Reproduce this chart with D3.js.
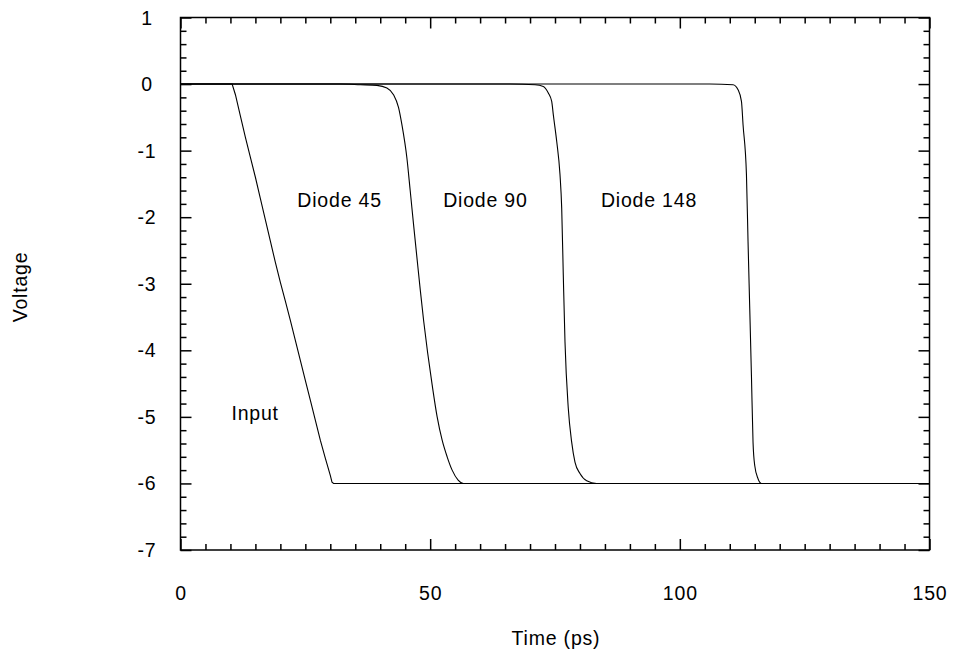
<!DOCTYPE html>
<html>
<head>
<meta charset="utf-8">
<script src="https://cdn.jsdelivr.net/npm/d3@7"></script>
<style>
  html, body { margin: 0; padding: 0; background: #fff; }
  svg { display: block; }
  text { font-family: "Liberation Sans", Arial, Helvetica, sans-serif; font-size: 19.5px; fill: #000; letter-spacing: 0.8px; }
</style>
</head>
<body>
<svg id="chart" width="953" height="653"></svg>
<script>
// Waveforms: time in ps, voltage in V
const inputT = [0, 10.34, 11, 12, 13, 14, 15, 16, 17, 18, 19, 20, 21, 22, 23, 24, 25, 26, 27, 28, 29, 30, 30.34, 30.66, 150];
const inputV = [0, 0, -0.16, -0.48, -0.8, -1.1, -1.4, -1.72, -2.04, -2.36, -2.68, -2.98, -3.26, -3.55, -3.85, -4.15, -4.45, -4.75, -5.05, -5.35, -5.62, -5.88, -5.98, -6, -6];

const diode45T = [0, 32, 36, 39.34, 41.34, 42.66, 43.66, 44.34, 45.34, 46, 46.66, 47.34, 48, 48.7, 49.5, 50.4, 51.4, 52.4, 53.4, 54.4, 55.6, 56.66, 150];
const diode45V = [0, 0, -0.01, -0.02, -0.06, -0.16, -0.35, -0.61, -1.11, -1.6, -2.1, -2.6, -3.08, -3.56, -4.04, -4.52, -5.0, -5.35, -5.6, -5.8, -5.95, -6, -6];

const diode90T = [0, 66, 71, 72.66, 73.66, 74.34, 74.66, 75.34, 76, 76.34, 76.66, 77, 77.66, 78.34, 79, 80, 81.34, 83.34, 150];
const diode90V = [0, 0, -0.01, -0.035, -0.134, -0.26, -0.46, -0.86, -1.36, -1.86, -2.87, -3.87, -4.87, -5.38, -5.68, -5.85, -5.96, -6, -6];

const diode148T = [0, 106, 110.66, 111.66, 112.34, 112.66, 113.34, 113.66, 114, 114.34, 114.66, 115, 115.66, 116.34, 150];
const diode148V = [0, 0, -0.01, -0.084, -0.26, -0.61, -1.36, -2.37, -3.37, -4.38, -5.38, -5.73, -5.93, -6, -6];

const xTickLabels = [0, 50, 100, 150];
const yTickLabels = [1, 0, -1, -2, -3, -4, -5, -6, -7];

// Curve annotations: [text, time, voltage]
const annotations = [
  ["Diode 45", 23.4, -1.85],
  ["Diode 90", 52.6, -1.85],
  ["Diode 148", 84.2, -1.85],
  ["Input", 10.2, -5.05]
];

const svg = d3.select("#chart");
const plotLeft = 180.5, plotRight = 929.5, plotTop = 17.5, plotBottom = 550;

const x = d3.scaleLinear().domain([0, 150]).range([plotLeft, plotRight]);
const y = d3.scaleLinear().domain([-7, 1]).range([plotBottom, plotTop]);

const xMinor = d3.range(0, 151, 5).filter(v => v % 50 !== 0);
const yMinor = d3.range(-7, 1.001, 0.2).map(v => +v.toFixed(1)).filter(v => Math.abs(v - Math.round(v)) > 1e-6);

function tickAxis(axisFn, scale, values, size, transform) {
  const g = svg.append("g").attr("transform", transform)
    .call(axisFn(scale).tickValues(values).tickSize(-size).tickFormat(""));
  g.select(".domain").remove();
  g.selectAll(".tick line").attr("stroke", "#000").attr("stroke-width", 1.5);
  return g;
}

// Inward ticks on all four sides
tickAxis(d3.axisBottom, x, xMinor, 6, `translate(0,${plotBottom})`);
tickAxis(d3.axisBottom, x, xTickLabels, 11, `translate(0,${plotBottom})`);
tickAxis(d3.axisTop, x, xMinor, 6, `translate(0,${plotTop})`);
tickAxis(d3.axisTop, x, xTickLabels, 11, `translate(0,${plotTop})`);
tickAxis(d3.axisLeft, y, yMinor, 6, `translate(${plotLeft},0)`);
tickAxis(d3.axisLeft, y, yTickLabels, 11, `translate(${plotLeft},0)`);
tickAxis(d3.axisRight, y, yMinor, 6, `translate(${plotRight},0)`);
tickAxis(d3.axisRight, y, yTickLabels, 11, `translate(${plotRight},0)`);

// Frame
svg.append("rect")
  .attr("x", plotLeft).attr("y", plotTop)
  .attr("width", plotRight - plotLeft).attr("height", plotBottom - plotTop)
  .attr("fill", "none").attr("stroke", "#000").attr("stroke-width", 1.5);

// Tick labels
svg.append("g").selectAll("text").data(xTickLabels).join("text")
  .attr("x", d => x(d) + 0.5).attr("y", 600)
  .attr("text-anchor", "middle")
  .text(d => d);

svg.append("g").selectAll("text").data(yTickLabels).join("text")
  .attr("x", 147).attr("y", d => y(d)).attr("dy", "0.36em")
  .attr("text-anchor", "middle")
  .text(d => d);

// Axis titles
svg.append("text").attr("x", 556).attr("y", 645).attr("text-anchor", "middle").text("Time (ps)");
svg.append("text").attr("transform", "translate(27,287) rotate(-90)").attr("text-anchor", "middle").text("Voltage");

// Waveforms
const series = [
  { t: inputT, v: inputV, curve: d3.curveLinear },
  { t: diode45T, v: diode45V, curve: d3.curveMonotoneX },
  { t: diode90T, v: diode90V, curve: d3.curveMonotoneX },
  { t: diode148T, v: diode148V, curve: d3.curveMonotoneX }
];

series.forEach(s => {
  const pts = s.t.map((t, i) => [t, s.v[i]]);
  const line = d3.line().x(d => x(d[0])).y(d => y(d[1])).curve(s.curve);
  svg.append("path").attr("d", line(pts))
    .attr("fill", "none").attr("stroke", "#000").attr("stroke-width", 1.1);
});

// Curve annotations
svg.append("g").selectAll("text").data(annotations).join("text")
  .attr("x", d => x(d[1])).attr("y", d => y(d[2]))
  .text(d => d[0]);
</script>
</body>
</html>
